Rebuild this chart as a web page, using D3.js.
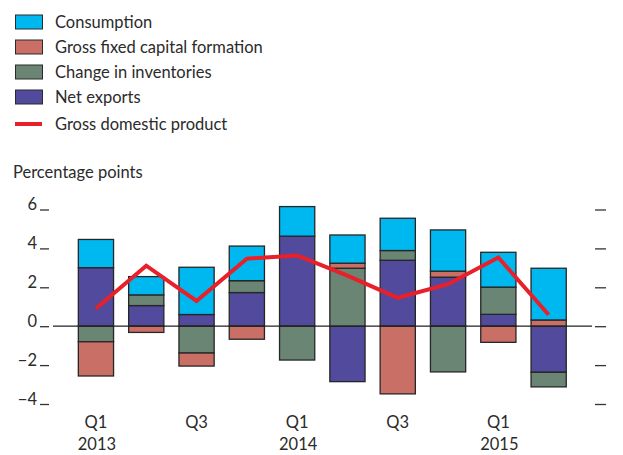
<!DOCTYPE html>
<html>
<head>
<meta charset="utf-8">
<script src="https://cdn.jsdelivr.net/npm/d3@7"></script>
<style>
  html, body { margin: 0; padding: 0; background: #fff; }
  svg { display: block; font-family: Lato, "Open Sans", sans-serif; }
</style>
</head>
<body>
<svg id="chart" width="623" height="455"></svg>
<script>
// ---- Data (percentage points) ----
const quarters = ["Q1 2013","Q2 2013","Q3 2013","Q4 2013","Q1 2014","Q2 2014","Q3 2014","Q4 2014","Q1 2015","Q2 2015"];
const quarterLabels = ["Q1","","Q3","","Q1","","Q3","","Q1",""];
const yearLabels = ["2013","","","","2014","","","","2015",""];
const consumption = [1.45, 0.94, 2.43, 1.78, 1.52, 1.45, 1.66, 2.12, 1.79, 2.66];
const grossFixedCapital = [-1.76, -0.32, -0.67, -0.67, 0.00, 0.26, -3.48, 0.31, -0.83, 0.32];
const inventories = [-0.80, 0.55, -1.38, 0.61, -1.74, 2.98, 0.50, -2.35, 1.40, -0.75];
const netExports = [3.01, 1.06, 0.60, 1.73, 4.63, -2.85, 3.39, 2.52, 0.61, -2.37];
const gdp = [0.91, 3.11, 1.30, 3.47, 3.64, 2.60, 1.46, 2.16, 3.53, 0.59];
const yTicks = [-4, -2, 0, 2, 4, 6];

const seriesKeys = ["netExports", "inventories", "gfcf", "consumption"];
const seriesNames = {
  consumption: "Consumption",
  gfcf: "Gross fixed capital formation",
  inventories: "Change in inventories",
  netExports: "Net exports"
};
const colors = {
  consumption: "#00B8F0",
  gfcf: "#C96F66",
  inventories: "#6A8573",
  netExports: "#524A9D",
  gdp: "#E8202A"
};

const rows = quarters.map((q, i) => ({
  q,
  consumption: consumption[i],
  gfcf: grossFixedCapital[i],
  inventories: inventories[i],
  netExports: netExports[i],
  gdp: gdp[i]
}));

const svg = d3.select("#chart");
const textColor = "#2b2b2b";

// ---- Scales ----
const x = d3.scaleBand()
  .domain(quarters)
  .range([70.8, 573.8])
  .paddingInner(0.3)
  .paddingOuter(0.15);

const y = d3.scaleLinear()
  .domain([-4, 6])
  .range([404, 209.5]);

// ---- Legend ----
const legendItems = ["consumption", "gfcf", "inventories", "netExports"];
const legend = svg.append("g");
legendItems.forEach((k, i) => {
  const cy = 22 + i * 25;
  legend.append("rect")
    .attr("x", 15.5).attr("y", cy - 7)
    .attr("width", 27).attr("height", 14)
    .attr("fill", colors[k])
    .attr("stroke", "#2a2a2a").attr("stroke-width", 1);
  legend.append("text")
    .attr("x", 55).attr("y", cy + 6)
    .attr("font-size", 16.5).attr("fill", textColor)
    .text(seriesNames[k]);
});
legend.append("line")
  .attr("x1", 15).attr("x2", 42)
  .attr("y1", 124).attr("y2", 124)
  .attr("stroke", colors.gdp).attr("stroke-width", 4);
legend.append("text")
  .attr("x", 55).attr("y", 130)
  .attr("font-size", 16.5).attr("fill", textColor)
  .text("Gross domestic product");

// ---- Axis title ----
svg.append("text")
  .attr("x", 13).attr("y", 178)
  .attr("font-size", 16.5).attr("fill", textColor)
  .text("Percentage points");

// ---- Left axis ----
const leftAxis = d3.axisLeft(y)
  .tickValues(yTicks)
  .tickSize(0)
  .tickFormat(d => d < 0 ? "\u2212" + Math.abs(d) : String(d));
const gL = svg.append("g").attr("transform", "translate(37,0)").call(leftAxis);
gL.select(".domain").remove();
gL.selectAll("text")
  .attr("x", 0).attr("dy", "0")
  .attr("font-size", 16.5).attr("fill", textColor)
  .attr("font-family", "Lato, 'Open Sans', sans-serif");
gL.selectAll(".tick").append("line")
  .attr("x1", 3).attr("x2", 12)
  .attr("stroke", "#333").attr("stroke-width", 1.3);

// ---- Right axis (ticks only) ----
const rightAxis = d3.axisRight(y).tickValues(yTicks).tickSize(0).tickFormat("");
const gR = svg.append("g").attr("transform", "translate(595,0)").call(rightAxis);
gR.select(".domain").remove();
gR.selectAll(".tick").append("line")
  .attr("x1", 0).attr("x2", 11)
  .attr("stroke", "#333").attr("stroke-width", 1.3);

// ---- Stacked bars ----
const stack = d3.stack().keys(seriesKeys).offset(d3.stackOffsetDiverging);
const stacked = stack(rows);

const barsG = svg.append("g");
stacked.forEach(layer => {
  barsG.append("g")
    .selectAll("rect")
    .data(layer.filter(d => d[1] !== d[0]))
    .join("rect")
    .attr("x", d => x(d.data.q))
    .attr("width", x.bandwidth())
    .attr("y", d => y(Math.max(d[0], d[1])))
    .attr("height", d => Math.abs(y(d[0]) - y(d[1])))
    .attr("fill", colors[layer.key])
    .attr("stroke", "#262626")
    .attr("stroke-width", 1.3);
});

// ---- Zero line ----
svg.append("line")
  .attr("x1", 53).attr("x2", 592)
  .attr("y1", y(0)).attr("y2", y(0))
  .attr("stroke", "#222").attr("stroke-width", 1.3);

// ---- GDP line ----
const line = d3.line()
  .x(d => x(d.q) + x.bandwidth() / 2)
  .y(d => y(d.gdp));
svg.append("path")
  .datum(rows)
  .attr("d", line)
  .attr("fill", "none")
  .attr("stroke", colors.gdp)
  .attr("stroke-width", 4)
  .attr("stroke-linejoin", "miter");

// ---- X labels ----
const xl = svg.append("g");
rows.forEach((d, i) => {
  const cx = x(d.q) + x.bandwidth() / 2;
  if (quarterLabels[i]) {
    xl.append("text").attr("x", cx).attr("y", 428)
      .attr("text-anchor", "middle").attr("font-size", 16.5).attr("fill", textColor)
      .text(quarterLabels[i]);
  }
  if (yearLabels[i]) {
    xl.append("text").attr("x", cx + 1).attr("y", 450)
      .attr("text-anchor", "middle").attr("font-size", 16.5).attr("fill", textColor)
      .text(yearLabels[i]);
  }
});
</script>
</body>
</html>
